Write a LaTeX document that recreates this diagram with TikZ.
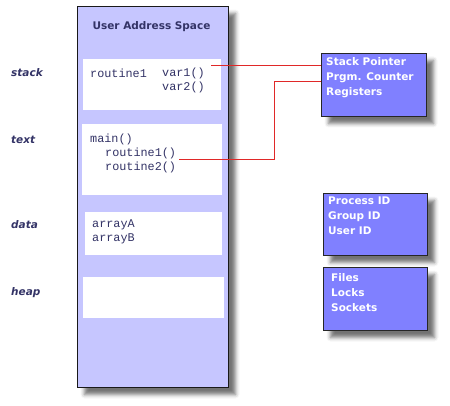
\documentclass[tikz,border=0pt]{standalone}
\usepackage{fontspec}
\setmainfont{DejaVu Sans}
\newfontfamily\monof{Liberation Mono}
\usetikzlibrary{shadows.blur}
\definecolor{lav}{HTML}{C6C6FF}
\definecolor{blu}{HTML}{8080FF}
\definecolor{navy}{HTML}{333366}
\definecolor{redl}{HTML}{E02828}
\tikzset{
  shad/.style={blur shadow={shadow xshift=7pt, shadow yshift=-7pt, shadow blur radius=4pt, shadow opacity=55}},
  bigbox/.style={draw=black!90, line width=1pt, fill=lav, anchor=north west, inner sep=0pt, shad},
  wbox/.style={fill=white, anchor=north west, inner sep=0pt},
  rbox/.style={draw=black!85, line width=1pt, fill=blu, anchor=north west, inner sep=0pt, shad},
  seg/.style={font=\bfseries\itshape\fontsize{10.5}{12}\selectfont, text=navy, anchor=west, inner sep=0pt},
  code/.style={font=\monof\fontsize{11.8}{14}\selectfont, text=navy, anchor=west, inner sep=0pt},
  rtxt/.style={font=\bfseries\fontsize{10.5}{15}\selectfont, text=white, anchor=north west, inner sep=0pt, align=left},
  redline/.style={draw=redl, line width=0.8pt},
}
\begin{document}
\begin{tikzpicture}[x=1pt,y=1pt]
\useasboundingbox (0,0) rectangle (450,-406);
% main column
\node[bigbox, minimum width=151pt, minimum height=381pt] (uas) at (77,-6) {};
\node[font=\bfseries\fontsize{10.5}{12}\selectfont, text=navy, inner sep=0pt] (title) at (151.5,-27) {User Address Space};
\node[wbox, minimum width=138pt, minimum height=51pt] (stk) at (83,-59) {};
\node[wbox, minimum width=140pt, minimum height=71pt] (txt) at (82,-124) {};
\node[wbox, minimum width=137pt, minimum height=43pt] (dat) at (85,-212) {};
\node[wbox, minimum width=141pt, minimum height=41pt] (hep) at (83,-277) {};
% segment labels
\node[seg] (lstack) at (11,-73) {stack};
\node[seg] (ltext) at (11,-140) {text};
\node[seg] (ldata) at (11,-225) {data};
\node[seg] (lheap) at (11,-293) {heap};
% code texts
\node[code] (c1) at (90,-73) {routine1};
\node[code] (c2) at (162,-73) {var1()};
\node[code] (c3) at (162,-87) {var2()};
\node[code] (c4) at (90,-139) {main()};
\node[code] (c5) at (105,-153) {routine1()};
\node[code] (c6) at (105,-167) {routine2()};
\node[code] (c7) at (92,-225) {arrayA};
\node[code] (c8) at (92,-239) {arrayB};
% right boxes
\node[rbox, minimum width=105pt, minimum height=63pt] (sp) at (321,-53) {};
\node[rbox, minimum width=104pt, minimum height=62pt] (pid) at (323,-193) {};
\node[rbox, minimum width=104pt, minimum height=63pt] (fil) at (323,-267) {};
\node[rtxt] (t1) at (326,-57) {Stack Pointer\\Prgm. Counter\\Registers};
\node[rtxt] (t2) at (328,-197) {Process ID\\Group ID\\User ID};
\node[rtxt] (t3) at (331,-273) {Files\\Locks\\Sockets};
% connectors
\coordinate (a1) at (211,-65);
\coordinate (a2) at (179,-159);
\coordinate (k1) at (274,-159);
\coordinate (k2) at (274,-81);
\draw[redline] (a1) -- (sp.west |- a1);
\draw[redline] (a2) -- (k1) -- (k2) -- (sp.west |- k2);
\end{tikzpicture}
\end{document}
